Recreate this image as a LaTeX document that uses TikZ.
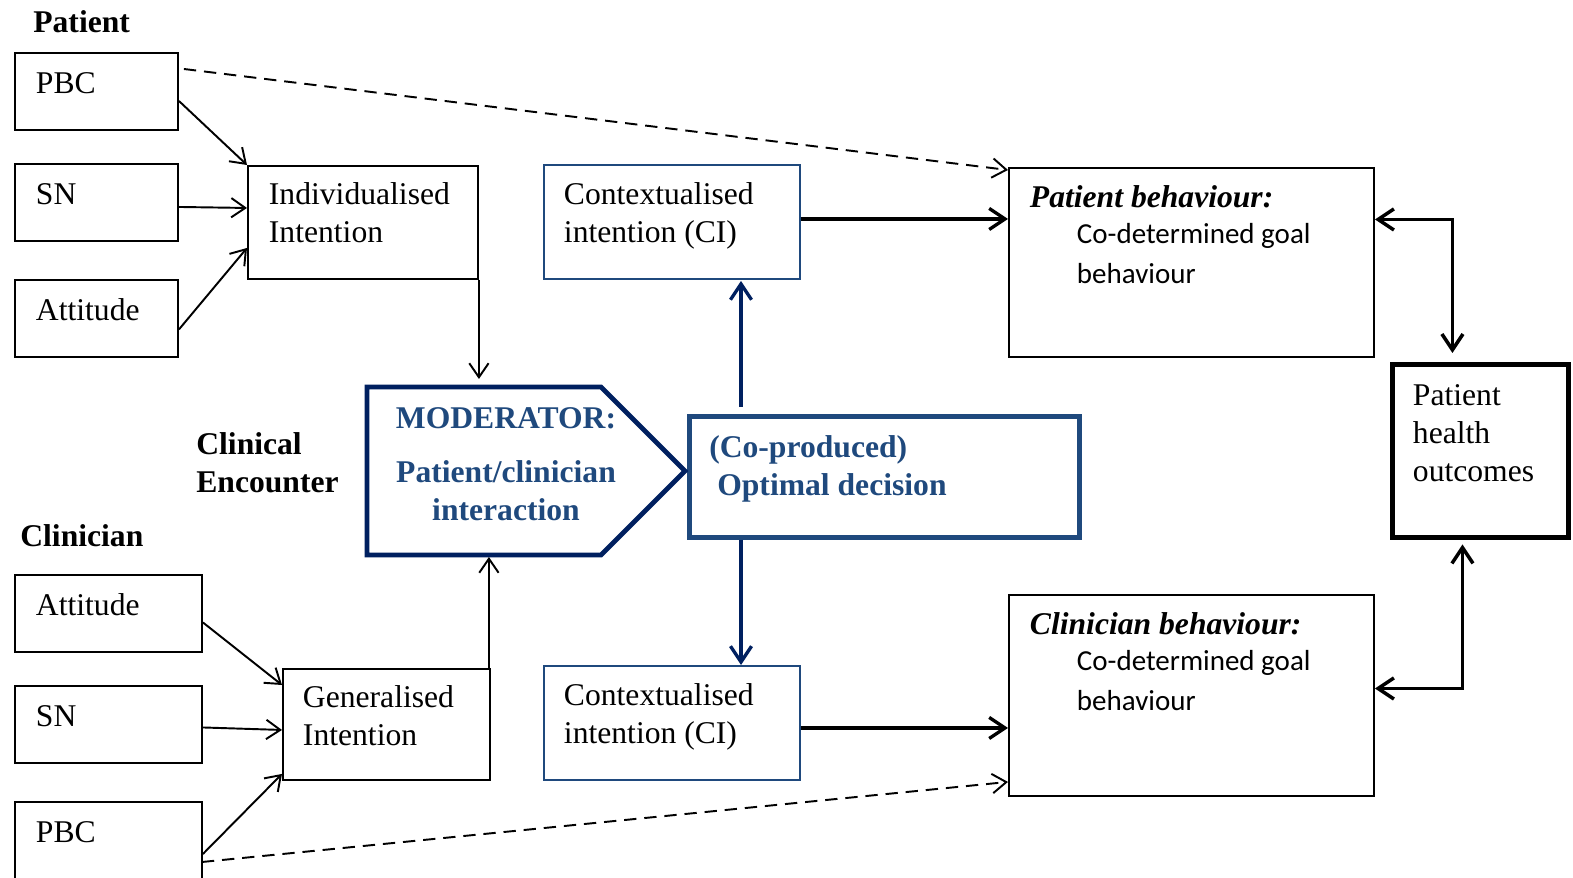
\documentclass[tikz,border=0pt]{standalone}
\usepackage{fontspec}
\setmainfont{Liberation Serif}
\newfontfamily\calfont{Carlito}
\usepackage{xcolor}
\usepackage{tikz}
\usetikzlibrary{arrows.meta}

\definecolor{modnavy}{RGB}{0,32,96}
\definecolor{steelblue}{RGB}{31,73,125}
\newlength{\pxlen}
\setlength{\pxlen}{0.02cm}
\newcommand{\diagfont}{\fontsize{18}{21.5}\selectfont}
\newcommand{\goalfont}{\calfont\fontsize{16.5}{21.5}\selectfont}

\begin{document}
\begin{tikzpicture}[x=0.02cm, y=-0.02cm,
    every node/.style={font=\diagfont},
    >={Straight Barb[length=8pt, width=11pt]},
    head/.style={anchor=base west, inner sep=0pt, font=\diagfont\bfseries},
    factor/.style={draw, line width=1.1pt, anchor=north west, inner xsep=21\pxlen, inner ysep=0pt, align=flush left, text height=41\pxlen, text depth=36\pxlen},
    intent/.style={draw, line width=1.1pt, anchor=north west, inner xsep=20\pxlen, inner ysep=0pt, align=flush left, text height=39\pxlen},
    ctxbox/.style={draw=steelblue, line width=1.1pt, anchor=north west, inner xsep=20\pxlen, inner ysep=0pt, align=flush left, text width=216\pxlen, text height=40\pxlen, text depth=74\pxlen},
    behbox/.style={draw, line width=1.1pt, anchor=north west, inner xsep=21\pxlen, inner ysep=0pt, align=flush left, text width=323\pxlen, text height=40\pxlen},
    modtext/.style={anchor=base, inner sep=0pt, text width=240\pxlen, align=flush center, font=\diagfont\bfseries, text=steelblue},
    link/.style={->, line width=1.1pt},
    dlink/.style={->, line width=1.1pt, dash pattern=on 7pt off 4.5pt},
    boldlink/.style={>={Straight Barb[length=9pt, width=12pt]}, ->, line width=1.9pt},
    twolink/.style={>={Straight Barb[length=9pt, width=12pt]}, <->, line width=2pt},
    navylink/.style={>={Straight Barb[length=9pt, width=12pt]}, ->, line width=1.9pt, modnavy}]

    \useasboundingbox (0,0) rectangle (1573,878);

    % Patient - beliefs and intention
    \node[head] (patlab) at (33,33) {Patient};
    \node[factor, text width=121\pxlen] (pbcA) at (14,52) {PBC};
    \node[factor, text width=121\pxlen] (snA) at (14,163) {SN};
    \node[factor, text width=121\pxlen] (attA) at (14,279) {Attitude};
    \node[intent, text width=188\pxlen, inner xsep=21\pxlen, text depth=74\pxlen] (indiv) at (247,165) {Individualised\\Intention};

    % Clinician - beliefs and intention
    \node[head] (clinlab) at (20,546) {Clinician};
    \node[factor, text width=145\pxlen] (attB) at (14,574) {Attitude};
    \node[factor, text width=145\pxlen] (snB) at (14,685) {SN};
    \node[factor, text width=145\pxlen, text depth=40\pxlen] (pbcB) at (14,801) {PBC};
    \node[intent, text width=167\pxlen, text depth=72\pxlen] (gen) at (282,668) {Generalised\\Intention};

    % Clinical encounter - moderator
    \node[head, text width=150\pxlen, align=flush left] (encounter) at (196,455) {Clinical\\Encounter};
    \coordinate (mNW) at (367,387);
    \coordinate (mNE) at (601,387);
    \coordinate (mTip) at (685,471);
    \coordinate (mSE) at (601,555);
    \coordinate (mSW) at (367,555);
    \node[modtext] (moder) at (506,429) {MODERATOR:\\[9pt]Patient/clinician\\interaction};

    % Decision and contextualised intentions
    \node[draw=steelblue, line width=2.6pt, anchor=north west, inner xsep=20\pxlen, inner ysep=0pt, text width=350\pxlen, text height=41\pxlen, text depth=80\pxlen, align=flush left, font=\diagfont\bfseries, text=steelblue] (optim) at (687,414) {(Co-produced)\\\hspace*{8\pxlen}Optimal decision};
    \draw[modnavy, line width=2.8pt, line join=miter] (mNW) -- (mNE) -- (mTip) -- (mSE) -- (mSW) -- cycle;
    \node[ctxbox] (ciA) at (543,164) {Contextualised\\intention (CI)};
    \node[ctxbox] (ciB) at (543,665) {Contextualised\\intention (CI)};

    % Behaviours and outcomes
    \node[behbox, text depth=149\pxlen] (pbeh) at (1008,167) {\textbf{\textit{Patient behaviour:}}\\[-1.1pt]\hspace*{47\pxlen}{\goalfont Co-determined goal}\\[1.2pt]\hspace*{47\pxlen}{\goalfont behaviour}};
    \node[behbox, text depth=161\pxlen] (cbeh) at (1008,594) {\textbf{\textit{Clinician behaviour:}}\\[-1.1pt]\hspace*{47\pxlen}{\goalfont Co-determined goal}\\[1.2pt]\hspace*{47\pxlen}{\goalfont behaviour}};
    \node[draw, line width=2.8pt, anchor=north west, inner xsep=20.5\pxlen, inner ysep=0pt, text width=135\pxlen, text height=41\pxlen, text depth=132.5\pxlen, align=flush left] (health) at (1390,362) {Patient\\health\\outcomes};

    % Patient arrows
    \draw[link] ([yshift=-9.5\pxlen]pbcA.east) -- (indiv.north west);
    \draw[link] ([yshift=-4.5\pxlen]snA.east) -- ([yshift=14.5\pxlen]indiv.west);
    \draw[link] ([yshift=-11\pxlen]attA.east) -- ([yshift=-25.5\pxlen]indiv.west);
    \draw[link, shorten >=8\pxlen] (indiv.south east) -- (indiv.south east |- mNW);
    \draw[dlink] ([xshift=5\pxlen, yshift=-17\pxlen]pbcA.north east) -- ([yshift=-3\pxlen]pbeh.north west);

    % Clinician arrows
    \draw[link] ([yshift=-9\pxlen]attB.east) -- ([yshift=-17\pxlen]gen.north west);
    \draw[link] ([yshift=-3\pxlen]snB.east) -- ([yshift=-5.5\pxlen]gen.west);
    \draw[link] ([yshift=-11.5\pxlen]pbcB.east) -- ([yshift=7\pxlen]gen.south west);
    \draw[link, shorten >=2\pxlen] ([xshift=-2\pxlen]gen.north east) -- ([xshift=-2\pxlen]gen.north east |- mSW);
    \draw[dlink] ([xshift=-1\pxlen, yshift=-61\pxlen]pbcB.north east) -- ([yshift=15\pxlen]cbeh.south west);

    % Decision to contextualised intentions
    \draw[navylink, shorten <=7\pxlen, shorten >=1\pxlen] ([xshift=54\pxlen]optim.north west) -- ([xshift=54\pxlen]optim.north west |- ciA.south);
    \draw[navylink] ([xshift=54\pxlen]optim.south west) -- ([xshift=54\pxlen]optim.south west |- ciB.north);

    % Intentions to behaviours
    \draw[boldlink] ([yshift=3\pxlen]ciA.east) -- ([yshift=3\pxlen]ciA.east -| pbeh.west);
    \draw[boldlink] ([yshift=-5\pxlen]ciB.east) -- ([yshift=-5\pxlen]ciB.east -| cbeh.west);

    % Behaviours and outcomes
    \draw[twolink, shorten >=9\pxlen] ([yshift=43\pxlen]pbeh.east) -| ([xshift=-28\pxlen]health.north);
    \draw[twolink, shorten >=4\pxlen] ([yshift=7\pxlen]cbeh.east) -| ([xshift=-18\pxlen]health.south);
\end{tikzpicture}
\end{document}
